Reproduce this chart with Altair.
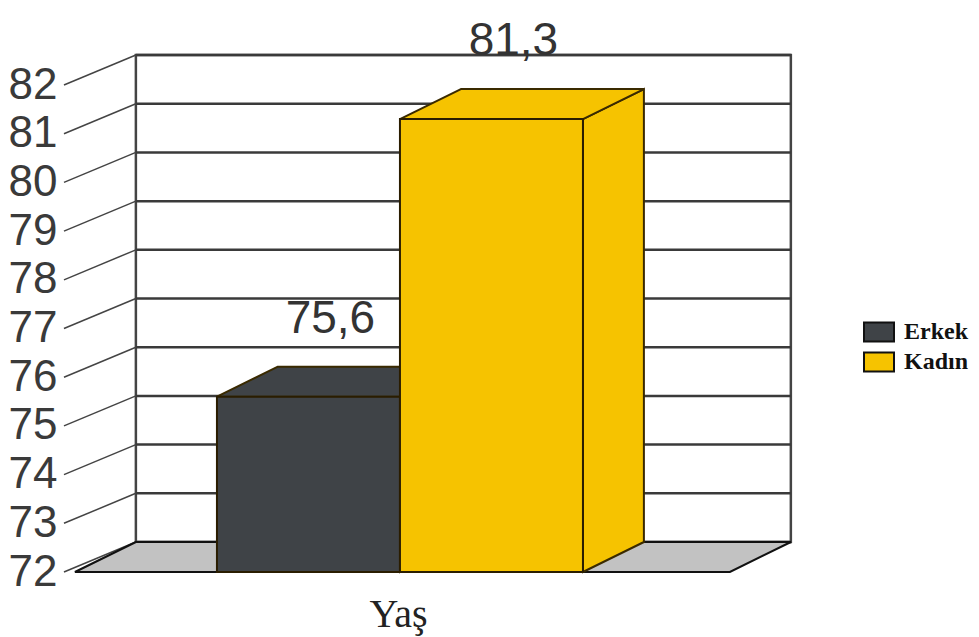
import altair as alt
import pandas as pd

# ---- data ----
categories = ["Erkek", "Kadın"]
values = [75.6, 81.3]
value_labels = ["75,6", "81,3"]
ticks = [72, 73, 74, 75, 76, 77, 78, 79, 80, 81, 82]
base = 72
colors_front = ["#3f4347", "#f6c300"]

# ---- 3D styling constants (depth offset in scale units) ----
DX = 0.333
DY = 0.616
FL, FR = -0.776, 2.803      # floor front edge (x units)
LX = -0.836                 # leader line start

cat_order = categories

front = pd.DataFrame({
    "cat": categories,
    "x0": [i for i in range(len(categories))],
    "x1": [i + 1 for i in range(len(categories))],
    "y0": [base] * len(categories),
    "y1": values,
})

top_rows, side_rows = [], []
for i, (c, v) in enumerate(zip(categories, values)):
    top_rows.append({"cat": c, "y": v, "xa": i, "xb": i + 1})
    top_rows.append({"cat": c, "y": v + DY, "xa": i + DX, "xb": i + 1 + DX})
    side_rows.append({"cat": c, "x": i + 1, "ya": base, "yb": v})
    side_rows.append({"cat": c, "x": i + 1 + DX, "ya": base + DY, "yb": v + DY})
top = pd.DataFrame(top_rows)
side = pd.DataFrame(side_rows)

labels = pd.DataFrame({
    "cat": categories,
    "x": [i + 0.62 for i in range(len(categories))],
    "y": [v + DY + 0.7 for v in values],
    "txt": value_labels,
})

grid = pd.DataFrame({"y": [t + DY for t in ticks], "x": [FL + DX] * len(ticks),
                     "x2": [FR + DX] * len(ticks)})
leaders = pd.DataFrame({"xs": [LX] * len(ticks), "xe": [FL + DX] * len(ticks),
                        "ys": ticks, "ye": [t + DY for t in ticks]})
floor = pd.DataFrame({"y": [base, base + DY], "xa": [FL, FL + DX], "xb": [FR, FR + DX]})
wall = pd.DataFrame({"x": [FL + DX], "x2": [FR + DX], "y": [base + DY], "y2": [ticks[-1] + DY]})

xs = alt.Scale(domain=[-0.803, 3.186], nice=False, zero=False)
ys = alt.Scale(domain=[71.836, 83.746], nice=False, zero=False)
cscale = alt.Scale(domain=cat_order, range=colors_front)

LEG = alt.Legend(title=None, orient="none", legendX=793, legendY=316,
                 symbolType="M-1,-0.63H1V0.63H-1Z", symbolSize=900,
                 symbolStrokeColor="#111", symbolStrokeWidth=2,
                 symbolOpacity=1,
                 labelFont="Liberation Serif", labelFontSize=24,
                 labelFontWeight="bold", labelColor="#111",
                 labelOffset=9, rowPadding=0)

X_AX = alt.Axis(labels=False, ticks=False, domain=False, grid=False, title="Yaş",
                titleFont="Liberation Serif", titleFontSize=40, titleFontWeight="normal",
                titleColor="#222", titleX=328, titleY=34, titleBaseline="middle",
                titleAnchor="start", titleAlign="center")
Y_AX = alt.Axis(values=ticks, format="d", ticks=False, domain=False, grid=False, title=None,
                labelFont="Liberation Sans", labelFontSize=44, labelColor="#3a3a3a",
                labelPadding=13, labelOverlap=False, labelBound=False, labelFlush=False)

wall_l = alt.Chart(wall).mark_rect(fill="white", stroke="#444", strokeWidth=2.5).encode(
    x=alt.X("x:Q", scale=xs, axis=X_AX), x2="x2:Q",
    y=alt.Y("y:Q", scale=ys, axis=Y_AX), y2="y2:Q")

grid_l = alt.Chart(grid).mark_rule(color="#3a3a3a", strokeWidth=2.5).encode(
    x=alt.X("x:Q", scale=xs), x2="x2:Q", y=alt.Y("y:Q", scale=ys))

lead_l = alt.Chart(leaders).mark_rule(color="#444", strokeWidth=1.5).encode(
    x=alt.X("xs:Q", scale=xs), x2="xe:Q", y=alt.Y("ys:Q", scale=ys), y2="ye:Q")

floor_l = alt.Chart(floor).mark_area(orient="horizontal", fill="#c2c2c2", stroke="#111",
                                     strokeWidth=2).encode(
    y=alt.Y("y:Q", scale=ys), x=alt.X("xa:Q", scale=xs), x2="xb:Q")

side_l = alt.Chart(side).mark_area(orient="vertical", stroke="#3a2a00", strokeWidth=2,
                                   opacity=1).encode(
    x=alt.X("x:Q", scale=xs), y=alt.Y("ya:Q", scale=ys), y2="yb:Q",
    color=alt.Color("cat:N", scale=cscale, sort=cat_order, legend=LEG))

top_l = alt.Chart(top).mark_area(orient="horizontal", stroke="#3a2a00", strokeWidth=2,
                                 opacity=1).encode(
    y=alt.Y("y:Q", scale=ys), x=alt.X("xa:Q", scale=xs), x2="xb:Q",
    color=alt.Color("cat:N", scale=cscale, sort=cat_order, legend=LEG))

front_l = alt.Chart(front).mark_rect(stroke="#2a1d00", strokeWidth=2, opacity=1).encode(
    x=alt.X("x0:Q", scale=xs), x2="x1:Q",
    y=alt.Y("y0:Q", scale=ys), y2="y1:Q",
    color=alt.Color("cat:N", scale=cscale, sort=cat_order, legend=LEG))

text_l = alt.Chart(labels).mark_text(font="Liberation Sans", fontSize=46, color="#333",
                                     baseline="alphabetic", align="center").encode(
    x=alt.X("x:Q", scale=xs), y=alt.Y("y:Q", scale=ys), text="txt:N")

chart = alt.layer(wall_l, grid_l, lead_l, floor_l, side_l, top_l, front_l, text_l).properties(
    width=730, height=580,
    padding={"left": 70, "top": 0, "right": 179, "bottom": 57},
    autosize=alt.AutoSizeParams(type="none"),
    background="white",
).configure_view(stroke=None)

chart.save("out.html", embed_options={"renderer": "svg", "actions": False})
